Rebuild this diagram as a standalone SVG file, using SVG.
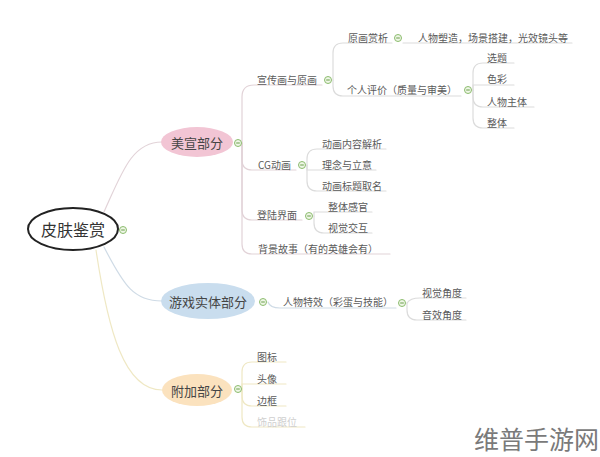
<svg xmlns="http://www.w3.org/2000/svg" xmlns:xlink="http://www.w3.org/1999/xlink" width="600" height="457" viewBox="0 0 600 457">
<style>
text{font-family:"Noto Sans CJK SC","Noto Sans",sans-serif;dominant-baseline:central}
.t{font-size:10px;fill:#5a5a5a}
.m{font-size:13px;fill:#454545;text-anchor:middle}
.r{font-size:16px;fill:#333;text-anchor:middle}
.c{fill:none;stroke-width:1.2;stroke-linecap:round}
.p{stroke:#e2d3d8}
.b{stroke:#cfdbe6}
.y{stroke:#efe8c4}
.g{stroke:#dcdcdc}
.wm{font-size:25px;fill:#7a7a7a}
</style>
<defs>
<g id="ind"><circle r="3.5" fill="#eef6e6" stroke="#8cbc6e" stroke-width="1"/><line x1="-1.8" y1="0" x2="1.8" y2="0" stroke="#6a9e4a" stroke-width="1"/></g>
</defs>
<rect width="600" height="457" fill="#fff"/>
<g id="connectors">
<path class="c p" d="M104 212 C122 172,132 142,162 142"/>
<path class="c b" d="M104 247 C124 286,134 301,162 301"/>
<path class="c y" d="M96 250 C108 330,124 390,162 390"/>
<!-- 美宣 -->
<path class="c p" d="M242 143 L242 97 Q242 85 254 85 L322 85"/>
<path class="c p" d="M242 143 L242 160 Q242 170 252 170 L296 170"/>
<path class="c p" d="M242 143 L242 210 Q242 220 252 220 L302 220"/>
<path class="c p" d="M242 143 L242 244 Q242 254 252 254 L390 254"/>
<path class="c g" d="M333 80 L333 53 Q333 43 343 43 L392 43"/>
<path class="c g" d="M403 43 L572 43"/>
<path class="c g" d="M333 80 L333 86 Q333 96 343 96 L461 96"/>
<path class="c g" d="M473 90 L473 73 Q473 63 483 63 L514 63"/>
<path class="c g" d="M473 90 L473 85 L514 85"/>
<path class="c g" d="M473 90 L473 97 Q473 107 483 107 L534 107"/>
<path class="c g" d="M473 90 L473 118 Q473 128 483 128 L514 128"/>
<path class="c g" d="M307 165 L307 159 Q307 149 317 149 L386 149"/>
<path class="c g" d="M307 165 L307 170 L376 170"/>
<path class="c g" d="M307 165 L307 181 Q307 191 317 191 L386 191"/>
<path class="c g" d="M314 216 L314 212 L372 212"/>
<path class="c g" d="M314 216 L314 223 Q314 233 324 233 L372 233"/>
<!-- 游戏 -->
<path class="c b" d="M268 302 Q270 308 280 308 L396 308"/>
<path class="c g" d="M407 303 Q410 298 420 298 L466 298"/>
<path class="c g" d="M407 303 L407 310 Q407 320 417 320 L466 320"/>
<!-- 附加 -->
<path class="c y" d="M242 389 L242 372 Q242 362 252 362 L286 362"/>
<path class="c y" d="M242 389 L242 384 L286 384"/>
<path class="c y" d="M242 389 L242 396 Q242 406 252 406 L286 406"/>
<path class="c y" d="M242 389 L242 417 Q242 427 252 427 L305 427"/>
</g>
<g id="root"><ellipse cx="73" cy="229" rx="45" ry="21" fill="#fff" stroke="#222" stroke-width="2"/><text class="r" x="73" y="229">皮肤鉴赏</text><use href="#ind" x="123" y="230"/></g>
<g id="meixuan"><ellipse cx="197" cy="142" rx="36" ry="15" fill="#f2c5d4"/><text class="m" x="197" y="142">美宣部分</text><use href="#ind" x="238" y="143"/></g>
<g id="youxi"><ellipse cx="208" cy="301" rx="47" ry="18" fill="#c9ddee"/><text class="m" x="208" y="301">游戏实体部分</text><use href="#ind" x="263" y="302"/></g>
<g id="fujia"><ellipse cx="197" cy="390" rx="35" ry="16" fill="#fbe2be"/><text class="m" x="197" y="390">附加部分</text><use href="#ind" x="238" y="389"/></g>
<g id="xuanchuan"><text class="t" x="257" y="79">宣传画与原画</text><use href="#ind" x="328" y="80"/></g>
<g id="yuanhua"><text class="t" x="348" y="37">原画赏析</text><use href="#ind" x="398" y="38"/></g>
<g id="renwusuzao"><text class="t" x="418" y="37">人物塑造，场景搭建，光效镜头等</text></g>
<g id="geren"><text class="t" x="347" y="89">个人评价（质量与审美）</text><use href="#ind" x="468" y="90"/></g>
<g id="xuanti"><text class="t" x="487" y="57">选题</text></g>
<g id="secai"><text class="t" x="487" y="78">色彩</text></g>
<g id="renwuzhuti"><text class="t" x="487" y="101">人物主体</text></g>
<g id="zhengti"><text class="t" x="487" y="122">整体</text></g>
<g id="cg"><text class="t" x="258" y="164">CG动画</text><use href="#ind" x="302" y="165"/></g>
<g id="cg1"><text class="t" x="322" y="143">动画内容解析</text></g>
<g id="cg2"><text class="t" x="322" y="164">理念与立意</text></g>
<g id="cg3"><text class="t" x="322" y="185">动画标题取名</text></g>
<g id="denglu"><text class="t" x="257" y="214">登陆界面</text><use href="#ind" x="309" y="216"/></g>
<g id="dl1"><text class="t" x="328" y="206">整体感官</text></g>
<g id="dl2"><text class="t" x="328" y="227">视觉交互</text></g>
<g id="beijing"><text class="t" x="258" y="248">背景故事（有的英雄会有）</text></g>
<g id="texiao"><text class="t" x="283" y="301">人物特效（彩蛋与技能）</text><use href="#ind" x="402" y="303"/></g>
<g id="tx1"><text class="t" x="422" y="292">视觉角度</text></g>
<g id="tx2"><text class="t" x="422" y="314">音效角度</text></g>
<g id="tubiao"><text class="t" x="257" y="356">图标</text></g>
<g id="touxiang"><text class="t" x="257" y="378">头像</text></g>
<g id="biankuang"><text class="t" x="257" y="400">边框</text></g>
<g id="shipin"><text class="t" x="257" y="421" fill="#cfcfcf" style="fill:#cfcfcf">饰品跟位</text></g>
<text class="wm" x="474" y="438">维普手游网</text>
</svg>
